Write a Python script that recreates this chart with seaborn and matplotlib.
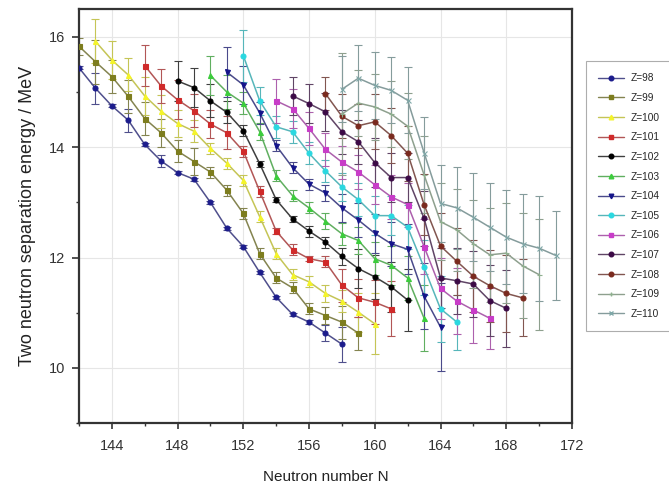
import numpy as np
import pandas as pd
import matplotlib
matplotlib.use("Agg")
import matplotlib.pyplot as plt
import matplotlib.colors as mcolors
from matplotlib.lines import Line2D
import seaborn as sns

# ---- data ----
Z_values = [98, 99, 100, 101, 102, 103, 104, 105, 106, 107, 108, 109, 110]
N_start = {98: 142, 99: 142, 100: 143, 101: 146, 102: 148, 103: 150, 104: 151,
           105: 152, 106: 154, 107: 155, 108: 157, 109: 158, 110: 158}

E98 = [15.44, 15.07, 14.75, 14.49, 14.05, 13.75, 13.54, 13.42, 13.0, 12.53, 12.2, 11.73, 11.28, 10.97, 10.83, 10.63, 10.43]
err98 = [0.03, 0.28, 0.03, 0.21, 0.03, 0.1, 0.03, 0.03, 0.03, 0.03, 0.03, 0.03, 0.03, 0.03, 0.03, 0.15, 0.32]
E99 = [15.83, 15.55, 15.28, 14.92, 14.52, 14.26, 13.93, 13.74, 13.55, 13.22, 12.8, 12.07, 11.63, 11.45, 11.07, 10.95, 10.83, 10.63]
err99 = [0.15, 0.4, 0.3, 0.3, 0.3, 0.25, 0.2, 0.25, 0.1, 0.1, 0.1, 0.1, 0.1, 0.1, 0.1, 0.15, 0.3, 0.3]
E100 = [15.92, 15.58, 15.31, 14.93, 14.65, 14.43, 14.29, 13.98, 13.71, 13.4, 12.74, 12.07, 11.69, 11.56, 11.35, 11.21, 11.01, 10.8]
err100 = [0.4, 0.35, 0.3, 0.35, 0.3, 0.25, 0.2, 0.1, 0.1, 0.1, 0.1, 0.1, 0.1, 0.1, 0.15, 0.2, 0.35, 0.55]
E101 = [15.48, 15.11, 14.86, 14.66, 14.42, 14.26, 13.93, 13.2, 12.48, 12.14, 11.98, 11.92, 11.5, 11.27, 11.19, 11.07]
err101 = [0.37, 0.3, 0.35, 0.3, 0.25, 0.3, 0.1, 0.1, 0.05, 0.1, 0.05, 0.1, 0.3, 0.35, 0.4, 0.5]
E102 = [15.2, 15.08, 14.84, 14.63, 14.3, 13.7, 13.05, 12.7, 12.48, 12.28, 12.02, 11.8, 11.65, 11.47, 11.23]
err102 = [0.37, 0.35, 0.3, 0.2, 0.1, 0.05, 0.05, 0.05, 0.1, 0.1, 0.15, 0.35, 0.4, 0.45, 0.56]
E103 = [15.3, 15.0, 14.8, 14.28, 13.48, 13.12, 12.9, 12.66, 12.43, 12.31, 11.98, 11.86, 11.63, 10.9]
err103 = [0.35, 0.3, 0.2, 0.15, 0.1, 0.1, 0.1, 0.15, 0.2, 0.25, 0.3, 0.35, 0.4, 0.6]
E104 = [15.36, 15.13, 14.62, 14.03, 13.63, 13.33, 13.17, 12.9, 12.68, 12.44, 12.25, 12.15, 11.3, 10.74]
err104 = [0.45, 0.35, 0.2, 0.1, 0.1, 0.1, 0.15, 0.25, 0.3, 0.35, 0.4, 0.45, 0.6, 0.8]
E105 = [15.66, 14.84, 14.37, 14.28, 13.89, 13.57, 13.28, 13.05, 12.76, 12.76, 12.55, 11.82, 11.07, 10.83]
err105 = [0.47, 0.25, 0.2, 0.2, 0.2, 0.2, 0.25, 0.3, 0.35, 0.35, 0.4, 0.5, 0.6, 0.5]
E106 = [14.84, 14.7, 14.34, 13.96, 13.73, 13.55, 13.32, 13.1, 12.96, 12.2, 11.44, 11.21, 11.05, 10.9]
err106 = [0.4, 0.35, 0.3, 0.3, 0.3, 0.3, 0.35, 0.4, 0.4, 0.5, 0.55, 0.6, 0.6, 0.55]
E107 = [14.93, 14.79, 14.64, 14.28, 14.1, 13.72, 13.45, 13.45, 12.71, 11.63, 11.58, 11.52, 11.22, 11.08]
err107 = [0.35, 0.35, 0.35, 0.4, 0.4, 0.45, 0.45, 0.45, 0.5, 0.55, 0.6, 0.6, 0.65, 0.7]
E108 = [14.97, 14.56, 14.39, 14.46, 14.21, 13.89, 12.96, 12.21, 11.93, 11.66, 11.49, 11.35, 11.27]
err108 = [0.3, 0.4, 0.4, 0.5, 0.5, 0.5, 0.55, 0.6, 0.6, 0.65, 0.65, 0.7, 0.7]
E109 = [14.6, 14.8, 14.73, 14.6, 14.38, 13.5, 12.65, 12.5, 12.25, 12.05, 12.08, 11.85, 11.69]
err109 = [1.1, 0.6, 0.6, 0.6, 0.6, 0.7, 0.7, 0.75, 0.8, 0.85, 0.9, 0.95, 1.0]
E110 = [15.05, 15.25, 15.12, 15.03, 14.85, 13.9, 12.98, 12.9, 12.73, 12.55, 12.37, 12.25, 12.17, 12.04]
err110 = [0.6, 0.6, 0.6, 0.6, 0.6, 0.65, 0.7, 0.75, 0.8, 0.8, 0.85, 0.9, 0.95, 0.8]

energies = {98: E98, 99: E99, 100: E100, 101: E101, 102: E102, 103: E103, 104: E104,
            105: E105, 106: E106, 107: E107, 108: E108, 109: E109, 110: E110}
errors = {98: err98, 99: err99, 100: err100, 101: err101, 102: err102, 103: err103, 104: err104,
          105: err105, 106: err106, 107: err107, 108: err108, 109: err109, 110: err110}

x_ticks = [144, 148, 152, 156, 160, 164, 168, 172]
y_ticks = [10, 12, 14, 16]

colors = {98: "#1c1c8c", 99: "#7d7d1e", 100: "#f4f42a", 101: "#d02a2a", 102: "#000000",
          103: "#3ccc3c", 104: "#14148a", 105: "#2ad8e0", 106: "#c83cc8", 107: "#3c0a46",
          108: "#7a2a1e", 109: "#8fb08f", 110: "#7fa8a8"}
markers = {98: "o", 99: "s", 100: "^", 101: "s", 102: "o", 103: "^", 104: "v",
           105: "o", 106: "s", 107: "o", 108: "o", 109: "+", 110: "x"}

rows = []
for z in Z_values:
    for i, (e, de) in enumerate(zip(energies[z], errors[z])):
        rows.append({"Z": z, "N": N_start[z] + i, "E": e, "err": de})
df = pd.DataFrame(rows)

sns.set_style("white")
plt.rcParams["font.family"] = ["Liberation Sans", "DejaVu Sans"]

fig = plt.figure(figsize=(6.69, 4.88), dpi=100)
ax = fig.add_axes([0.118, 0.133, 0.737, 0.848])

def muted(c, f=0.45):
    r, g, b = mcolors.to_rgb(c)
    gr = 0.55
    return (r * (1 - f) + gr * f, g * (1 - f) + gr * f, b * (1 - f) + gr * f)

handles = []
for z in Z_values:
    sub = df[df["Z"] == z]
    c = colors[z]
    lc = muted(c)
    ax.errorbar(sub["N"], sub["E"], yerr=sub["err"], fmt="none", ecolor=lc,
                elinewidth=0.8, capsize=2.6, capthick=0.8, zorder=2)
    sns.lineplot(data=sub, x="N", y="E", ax=ax, color=lc, linewidth=1.1,
                 marker=markers[z], markersize=3.6,
                 markerfacecolor=c, markeredgecolor=c, markeredgewidth=0.8,
                 legend=False, zorder=3)
    handles.append(Line2D([0], [0], color=lc, lw=1.0, marker=markers[z], markersize=3.3,
                          markerfacecolor=c, markeredgecolor=c, label=f"Z={z}"))

ax.set_xlim(142, 172)
ax.set_ylim(9.5, 16.5)
ax.set_xticks(x_ticks)
ax.set_yticks(y_ticks)
ax.set_xticks(np.arange(142, 173, 2), minor=True)
ax.set_yticks(np.arange(9, 17, 1), minor=True)
ax.grid(True, which="major", color="#e6e6e6", linewidth=0.8)
ax.set_axisbelow(True)
ax.tick_params(axis="x", which="major", direction="out", length=4.5, width=1.2,
               labelsize=10.5, colors="#333333", pad=7)
ax.tick_params(axis="y", which="major", direction="out", length=5, width=1.2,
               labelsize=10.5, colors="#333333", pad=5)
ax.tick_params(axis="both", which="minor", direction="out", length=2.5, width=1.0, colors="#333333")
ax.tick_params(axis="x", bottom=True, which="both")
ax.tick_params(axis="y", left=True, which="both")
for sp in ax.spines.values():
    sp.set_color("#333333")
    sp.set_linewidth(1.6)

ax.set_xlabel("Neutron number N", fontsize=11, color="#222222", labelpad=12)
ax.set_ylabel("Two neutron separation energy / MeV", fontsize=13, color="#222222", labelpad=9)

leg = fig.legend(handles=handles, loc="upper left", bbox_to_anchor=(0.868, 0.885),
                 fontsize=7.3, frameon=True, fancybox=False, edgecolor="#999999",
                 handlelength=2.6, labelspacing=0.95, borderpad=1.2, handletextpad=0.6)
leg.get_frame().set_linewidth(0.8)

fig.savefig("out.png", dpi=100)
